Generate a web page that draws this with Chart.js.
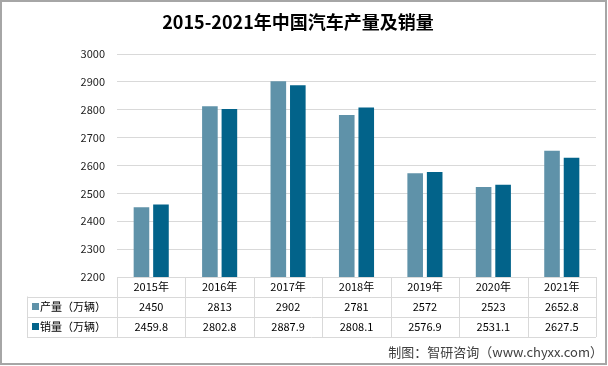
<!DOCTYPE html>
<html>
<head>
<meta charset="utf-8">
<script src="https://cdn.jsdelivr.net/npm/chart.js@4"></script>
<style>
  html, body { margin: 0; padding: 0; background: #fff; }
  #wrap { width: 608px; height: 366px; position: relative; }
</style>
</head>
<body>
<div id="wrap"><canvas id="carChart" width="608" height="366"></canvas></div>
<script>
// Chart data
const years = ['2015年', '2016年', '2017年', '2018年', '2019年', '2020年', '2021年'];
const production = [2450, 2813, 2902, 2781, 2572, 2523, 2652.8];
const sales = [2459.8, 2802.8, 2887.9, 2808.1, 2576.9, 2531.1, 2627.5];
const productionText = ['2450', '2813', '2902', '2781', '2572', '2523', '2652.8'];
const salesText = ['2459.8', '2802.8', '2887.9', '2808.1', '2576.9', '2531.1', '2627.5'];
const seriesNames = ['产量（万辆）', '销量（万辆）'];

const FONT = "'Noto Sans CJK SC', 'Noto Sans', sans-serif";
const lightBlue = '#5f92a9';
const darkBlue = '#02638a';
const lineColor = '#d9d9d9';

// Data table drawn under the plot, aligned with the category scale
const dataTablePlugin = {
    id: 'dataTable',
    afterDraw(chart) {
        const ctx = chart.ctx;
        const area = chart.chartArea;
        const x = chart.scales.x;
        const n = years.length;
        const colW = (area.right - area.left) / n;
        const top = area.bottom;
        const r1 = top + 19.5;
        const r2 = top + 39.5;
        const bottom = top + 60;
        const tableLeft = 27;

        ctx.save();
        ctx.strokeStyle = lineColor;
        ctx.lineWidth = 1;
        ctx.beginPath();
        [r1, r2, bottom].forEach(y => {
            ctx.moveTo(tableLeft, Math.round(y) + 0.5);
            ctx.lineTo(area.right, Math.round(y) + 0.5);
        });
        ctx.moveTo(tableLeft + 0.5, r1);
        ctx.lineTo(tableLeft + 0.5, bottom);
        for (let i = 0; i <= n; i++) {
            const xx = Math.round(area.left + i * colW) + 0.5;
            ctx.moveTo(xx, top);
            ctx.lineTo(xx, bottom);
        }
        ctx.stroke();

        ctx.fillStyle = '#000';
        ctx.font = '11px ' + FONT;
        ctx.textAlign = 'center';
        ctx.textBaseline = 'middle';
        years.forEach((label, i) => {
            const cx = x.getPixelForValue(i);
            ctx.fillText(label, cx, (top + r1) / 2);
            ctx.fillText(productionText[i], cx, (r1 + r2) / 2);
            ctx.fillText(salesText[i], cx, (r2 + bottom) / 2);
        });

        // Row headers with legend keys
        ctx.textAlign = 'left';
        [[lightBlue, (r1 + r2) / 2], [darkBlue, (r2 + bottom) / 2]].forEach(([color, cy], i) => {
            ctx.fillStyle = color;
            ctx.fillRect(32, Math.round(cy) - 4, 7, 7);
            ctx.fillStyle = '#000';
            ctx.fillText(seriesNames[i], 40, cy);
        });

        // Source note
        ctx.fillStyle = '#404040';
        ctx.font = '13px ' + FONT;
        ctx.textAlign = 'right';
        ctx.fillText('制图：智研咨询（www.chyxx.com）', 603, 352);

        // Outer frame
        ctx.strokeStyle = '#a6a6a6';
        ctx.lineWidth = 2;
        ctx.strokeRect(1, 1, chart.width - 3, chart.height - 3);
        ctx.restore();
    }
};

const ctx = document.getElementById('carChart').getContext('2d');
new Chart(ctx, {
    type: 'bar',
    data: {
        labels: years,
        datasets: [{
            label: seriesNames[0],
            data: production,
            backgroundColor: lightBlue,
            barPercentage: 0.8,
            categoryPercentage: 0.57
        }, {
            label: seriesNames[1],
            data: sales,
            backgroundColor: darkBlue,
            barPercentage: 0.8,
            categoryPercentage: 0.57
        }]
    },
    options: {
        responsive: false,
        animation: false,
        layout: {
            padding: { left: 0, right: 12, top: 0, bottom: 89 }
        },
        plugins: {
            legend: { display: false },
            tooltip: { enabled: false },
            title: {
                display: true,
                text: '2015-2021年中国汽车产量及销量',
                color: '#000',
                font: { family: FONT, size: 18, weight: 'bold', lineHeight: 1.2 },
                padding: { top: 11, bottom: 21.4 }
            }
        },
        scales: {
            x: {
                display: false,
                grid: { display: false }
            },
            y: {
                min: 2200,
                max: 3000,
                afterFit(scale) { scale.width = 117; },
                border: { display: false },
                grid: { color: lineColor, drawTicks: false },
                ticks: {
                    stepSize: 100,
                    padding: 12,
                    color: '#222',
                    font: { family: FONT, size: 11 },
                    callback: value => String(value)
                }
            }
        }
    },
    plugins: [dataTablePlugin]
});
</script>
</body>
</html>
